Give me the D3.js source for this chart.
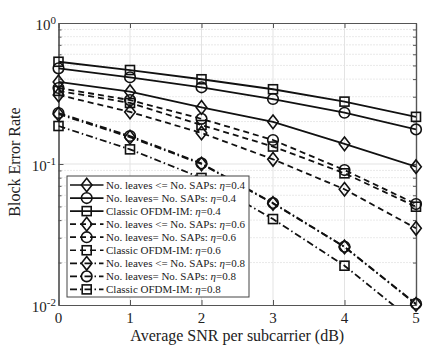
<!DOCTYPE html>
<html><head><meta charset="utf-8">
<script src="https://cdn.jsdelivr.net/npm/d3@7"></script>
<style>body{margin:0;background:#fff}svg{display:block}text{font-family:"Liberation Serif","Times New Roman",serif;fill:#222}</style>
</head><body><svg id="c" width="436" height="357"></svg>
<script>
const snr = [0, 1, 2, 3, 4, 5];
const xTicks = [0, 1, 2, 3, 4, 5];
const yTickExps = [0, -1, -2];
const leavesLe04 = [0.382, 0.326, 0.252, 0.199, 0.139, 0.0957];
const leavesEq04 = [0.477, 0.412, 0.350, 0.289, 0.231, 0.176];
const classic04  = [0.531, 0.464, 0.399, 0.339, 0.277, 0.216];
const leavesLe06 = [0.309, 0.234, 0.166, 0.108, 0.0662, 0.035];
const leavesEq06 = [0.346, 0.284, 0.209, 0.148, 0.0906, 0.052];
const classic06  = [0.330, 0.271, 0.189, 0.133, 0.0859, 0.0498];
const leavesLe08 = [0.226, 0.155, 0.100, 0.0525, 0.0258, 0.0101];
const leavesEq08 = [0.230, 0.158, 0.101, 0.0529, 0.0259, 0.0102];
const classic08  = [0.186, 0.127, 0.0796, 0.0407, 0.0190, 0.0074];
const legendLabels = [
  ["No. leaves <= No. SAPs: ", "=0.4"],
  ["No. leaves= No. SAPs: ", "=0.4"],
  ["Classic OFDM-IM: ", "=0.4"],
  ["No. leaves <= No. SAPs: ", "=0.6"],
  ["No. leaves= No. SAPs: ", "=0.6"],
  ["Classic OFDM-IM: ", "=0.6"],
  ["No. leaves <= No. SAPs: ", "=0.8"],
  ["No. leaves= No. SAPs: ", "=0.8"],
  ["Classic OFDM-IM: ", "=0.8"]
];
const seriesValues = [leavesLe04, leavesEq04, classic04, leavesLe06, leavesEq06, classic06, leavesLe08, leavesEq08, classic08];
const markers = ["diamond", "circle", "square", "diamond", "circle", "square", "diamond", "circle", "square"];
const dashes = [null, null, null, "6,4", "6,4", "6,4", "7,3,1.5,3", "7,3,1.5,3", "7,3,1.5,3"];

const L = 58.5, R = 416, T = 23, B = 305;
const svg = d3.select("#c");
const x = d3.scaleLinear().domain([0, 5]).range([L, R]);
const y = d3.scaleLog().domain([0.01, 1]).range([B, T]);
const axisColor = "#555";

// grid
const g = svg.append("g");
const minorVals = [];
for (let e = -2; e < 0; e++) for (let m = 2; m <= 9; m++) minorVals.push(m * Math.pow(10, e));
g.selectAll(".mg").data(minorVals).enter().append("line")
  .attr("x1", L).attr("x2", R).attr("y1", d => y(d)).attr("y2", d => y(d))
  .attr("stroke", "#c8c8c8").attr("stroke-width", 0.8).attr("stroke-dasharray", "1,2");
g.selectAll(".hg").data([0.1]).enter().append("line")
  .attr("x1", L).attr("x2", R).attr("y1", d => y(d)).attr("y2", d => y(d))
  .attr("stroke", "#e3e3e3").attr("stroke-width", 1);
g.selectAll(".vg").data(xTicks.slice(1, -1)).enter().append("line")
  .attr("x1", d => x(d)).attr("x2", d => x(d)).attr("y1", T).attr("y2", B)
  .attr("stroke", "#e3e3e3").attr("stroke-width", 1);

// axes
const ax = svg.append("g");
ax.append("g").attr("transform", `translate(0,${B})`)
  .call(d3.axisBottom(x).tickValues(xTicks).tickSize(-5).tickFormat("").tickSizeOuter(0));
ax.append("g").attr("transform", `translate(0,${T})`)
  .call(d3.axisTop(x).tickValues(xTicks).tickSize(-5).tickFormat("").tickSizeOuter(0));
ax.append("g").attr("transform", `translate(${L},0)`)
  .call(d3.axisLeft(y).tickValues(yTickExps.map(e => Math.pow(10, e))).tickSize(-5).tickFormat("").tickSizeOuter(0));
ax.append("g").attr("transform", `translate(${R},0)`)
  .call(d3.axisRight(y).tickValues(yTickExps.map(e => Math.pow(10, e))).tickSize(-5).tickFormat("").tickSizeOuter(0));
ax.append("g").attr("transform", `translate(${L},0)`)
  .call(d3.axisLeft(y).tickValues(minorVals).tickSize(-3).tickFormat("").tickSizeOuter(0));
ax.append("g").attr("transform", `translate(${R},0)`)
  .call(d3.axisRight(y).tickValues(minorVals).tickSize(-3).tickFormat("").tickSizeOuter(0));
ax.selectAll("path,line").attr("stroke", axisColor).attr("stroke-width", 1);
ax.selectAll(".domain").attr("stroke-width", 1.2);

// tick labels
svg.selectAll(".xt").data(xTicks).enter().append("text")
  .attr("x", d => x(d)).attr("y", B + 18).attr("text-anchor", "middle")
  .attr("font-size", 15).text(d => d);
yTickExps.forEach(e => {
  const t = svg.append("text").attr("x", 56).attr("y", y(Math.pow(10, e)) + 7).attr("text-anchor", "end").attr("font-size", 15);
  t.append("tspan").text("10");
  t.append("tspan").attr("dy", -6).attr("font-size", 11).text(String(e));
});
svg.append("text").attr("x", (L + R) / 2).attr("y", 341).attr("text-anchor", "middle")
  .attr("font-size", 16).text("Average SNR per subcarrier (dB)");
svg.append("text").attr("transform", "translate(20,162) rotate(-90)").attr("text-anchor", "middle")
  .attr("font-size", 16).text("Block Error Rate");

// marker drawing
function marker(sel, type, cx, cy) {
  if (type === "circle") sel.append("circle").attr("cx", cx).attr("cy", cy).attr("r", 5.3);
  else if (type === "square") sel.append("rect").attr("x", cx - 4.5).attr("y", cy - 4.5).attr("width", 9).attr("height", 9);
  else sel.append("path").attr("d", `M${cx},${cy - 6.8}L${cx + 5.3},${cy}L${cx},${cy + 6.8}L${cx - 5.3},${cy}Z`);
}

svg.append("defs").append("clipPath").attr("id", "pc").append("rect")
  .attr("x", L).attr("y", T).attr("width", R - L).attr("height", B - T);
const line = d3.line().x((d, i) => x(snr[i])).y(d => y(d));
const lines = svg.append("g").attr("clip-path", "url(#pc)");
seriesValues.forEach((vals, k) => {
  lines.append("path").attr("d", line(vals)).attr("fill", "none").attr("stroke", "#111")
    .attr("stroke-width", 1.8).attr("stroke-dasharray", dashes[k]);
});
const mk = svg.append("g").attr("fill", "none").attr("stroke", "#111").attr("stroke-width", 1.6);
seriesValues.forEach((vals, k) => {
  vals.forEach((v, i) => {
    if (v >= 0.0099 && v <= 1) marker(mk, markers[k], x(snr[i]), y(v));
  });
});

// legend
const lg = svg.append("g");
const lx = 67, ly = 176, lw = 182, lh = 121;
lg.append("rect").attr("x", lx).attr("y", ly).attr("width", lw).attr("height", lh)
  .attr("fill", "#fff").attr("stroke", "#444").attr("stroke-width", 1);
legendLabels.forEach((lab, k) => {
  const cy = 185 + k * 13.05;
  lg.append("line").attr("x1", 70).attr("x2", 103.5).attr("y1", cy).attr("y2", cy)
    .attr("stroke", "#111").attr("stroke-width", 1.7).attr("stroke-dasharray", dashes[k]);
  const m = lg.append("g").attr("fill", "none").attr("stroke", "#111").attr("stroke-width", 1.6);
  marker(m, markers[k], 86.7, cy);
  const t = lg.append("text").attr("x", 106).attr("y", cy + 4).attr("font-size", 11);
  t.append("tspan").text(lab[0]);
  t.append("tspan").attr("font-style", "italic").text("\u03b7");
  t.append("tspan").text(lab[1]);
});
</script></body></html>
